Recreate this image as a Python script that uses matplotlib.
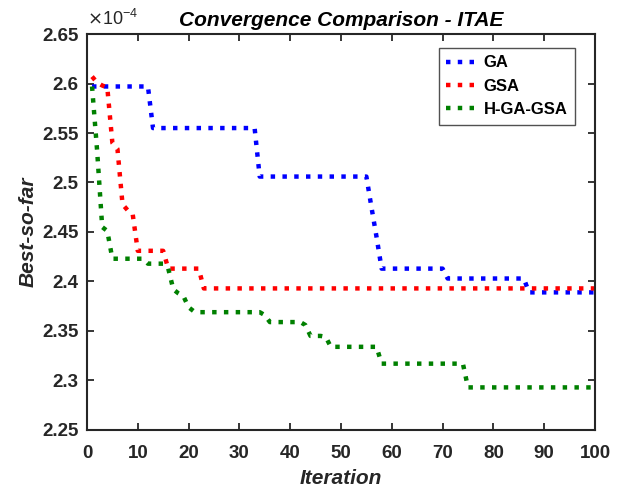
import numpy as np
import matplotlib
matplotlib.use('Agg')
import matplotlib.pyplot as plt
from matplotlib.ticker import FuncFormatter

# ==============================================================================
# Data (best-so-far values, unit 1e-4)
iterations = np.arange(1, 101)

ga_values = ([2.597] * 12 + [2.555] * 21 + [2.506] * 22 + [2.475, 2.445]
             + [2.413] * 13 + [2.403] * 16 + [2.389] * 14)

gsa_values = ([2.607, 2.601, 2.598, 2.596, 2.540, 2.534, 2.478, 2.472, 2.468]
              + [2.431] * 6 + [2.413] * 7 + [2.393] * 78)

hgagsa_values = ([2.597, 2.532, 2.455, 2.451] + [2.423] * 7 + [2.418] * 4
                 + [2.413, 2.392, 2.388, 2.385, 2.374, 2.370] + [2.369] * 13
                 + [2.366] + [2.359] * 7 + [2.356] + [2.345] * 3 + [2.344]
                 + [2.334] * 10 + [2.317] * 17 + [2.293] * 26)

series_names = ['GA', 'GSA', 'H-GA-GSA']
series_colors = ['#0000ff', '#ff0000', '#008000']

xTicks = np.arange(0, 101, 10)
yTicks = np.arange(2.25, 2.651, 0.05)

# ==============================================================================
plt.rcParams['font.family'] = ['Liberation Sans', 'DejaVu Sans']
axisColor = (0.15, 0.15, 0.15)

fig = plt.figure(figsize=(6.19, 4.88), dpi=100)
ax = fig.add_axes([0.1405, 0.1189, 0.8207, 0.8114])

for values, name, color in zip([ga_values, gsa_values, hgagsa_values], series_names, series_colors):
    ax.plot(iterations, values, linestyle=':', linewidth=3.2, color=color, label=name)

ax.set_xlim(0, 100)
ax.set_ylim(2.25, 2.65)
ax.set_xticks(xTicks)
ax.set_yticks(yTicks)
ax.yaxis.set_major_formatter(FuncFormatter(lambda v, pos: '%g' % round(v, 2)))

ax.tick_params(direction='in', length=5, width=1.3, top=True, right=True,
               colors=axisColor, labelsize=13.5)
ax.tick_params(axis='x', pad=11)
ax.tick_params(axis='y', pad=6)
for lbl in ax.get_xticklabels() + ax.get_yticklabels():
    lbl.set_fontweight('bold')
for spine in ax.spines.values():
    spine.set_linewidth(1.5)
    spine.set_color(axisColor)

ax.set_title('Convergence Comparison - ITAE', fontsize=15, fontweight='bold',
             fontstyle='italic', pad=6)
ax.set_xlabel('Iteration', fontsize=15, fontweight='bold', fontstyle='italic',
              color=axisColor, labelpad=5)
ax.set_ylabel('Best-so-far', fontsize=15, fontweight='bold', fontstyle='italic',
              color=axisColor, labelpad=3)

# exponent label (values are in units of 1e-4)
ax.text(0.0, 1.012, r'$\times\mathregular{10^{-4}}$', transform=ax.transAxes,
        fontsize=13, color=axisColor, ha='left', va='bottom')

leg = ax.legend(loc='upper right', bbox_to_anchor=(0.961, 0.965), borderaxespad=0,
                fancybox=False, edgecolor=axisColor, handlelength=1.9,
                borderpad=0.45, labelspacing=0.5, handletextpad=0.35,
                prop={'weight': 'bold', 'size': 12})
leg.get_frame().set_linewidth(1.0)

plt.savefig('out.png', dpi=100)
